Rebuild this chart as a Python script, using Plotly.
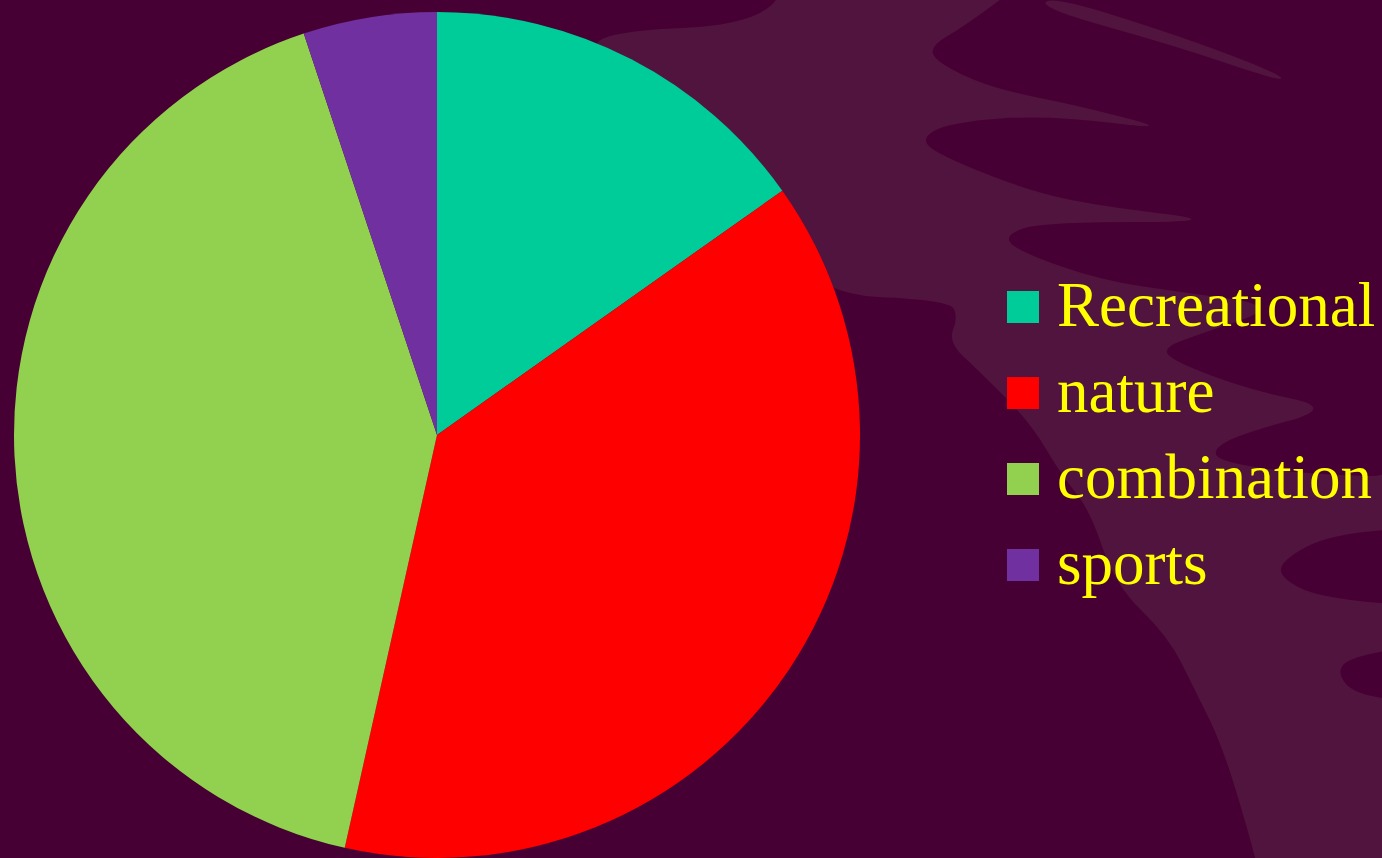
import plotly.graph_objects as go

# ---- data ----
labels = ["Recreational", "nature", "combination", "sports"]
values = [15.2, 38.3, 41.4, 5.1]
colors = ["#00CC99", "#FF0000", "#92D050", "#7030A0"]

W, H = 1382, 858
BG_DARK = "#470033"
BG_LIGHT = "#51143F"
TEXT_COLOR = "#FFFF00"
FONT = "Liberation Serif, Times New Roman, serif"


def px(x):
    return x / W


def py(y):
    return 1 - y / H


def smooth_path(points):
    """closed path through midpoints, using the vertices as quadratic control points"""
    n = len(points)
    mids = [((points[i][0] + points[(i + 1) % n][0]) / 2, (points[i][1] + points[(i + 1) % n][1]) / 2)
            for i in range(n)]
    s = f"M {px(mids[-1][0]):.5f},{py(mids[-1][1]):.5f}"
    for i in range(n):
        c = points[i]
        m = mids[i]
        s += f" Q {px(c[0]):.5f},{py(c[1]):.5f} {px(m[0]):.5f},{py(m[1]):.5f}"
    return s + " Z"


# background decoration (lighter swirl area with darker fingers)
light_region = [(790, -40), (1440, -40), (1440, 900), (1266, 900), (1248, 830), (1222, 745),
                (1195, 690), (1168, 636), (1115, 585), (1090, 510), (1062, 476), (1030, 422),
                (980, 372), (948, 342), (958, 318), (950, 300), (806, 294), (700, 150),
                (600, 60), (594, 32), (770, 24)]
dark_hand = [(1040, -30), (1300, -30), (1300, 0), (1440, 60), (1440, 478), (1300, 474),
             (1222, 462), (1212, 450), (1240, 434), (1336, 408), (1250, 390), (1175, 362),
             (1162, 348), (1200, 334), (1282, 306), (1180, 292), (1100, 280), (1020, 252),
             (1003, 236), (1040, 222), (1230, 222), (1100, 206), (1033, 192), (950, 160),
             (918, 140), (950, 122), (1050, 115), (1176, 131), (1080, 106), (990, 88),
             (936, 62), (930, 46), (965, 26)]
dark_f = [(1440, 526), (1330, 534), (1282, 560), (1280, 578), (1320, 598), (1440, 608)]
dark_g = [(1440, 642), (1352, 656), (1336, 672), (1356, 696), (1440, 704)]
streak = [(1052, -4), (1180, 36), (1280, 74), (1282, 82), (1176, 46), (1040, 8)]

shapes = []
for pts, col in [(light_region, BG_LIGHT), (dark_hand, BG_DARK), (dark_f, BG_DARK),
                 (dark_g, BG_DARK), (streak, BG_LIGHT)]:
    shapes.append(dict(type="path", xref="paper", yref="paper", path=smooth_path(pts),
                       fillcolor=col, line=dict(width=0), layer="below"))

# pie geometry: center (437, 435), radius 423
cx, cy, R = 437, 435, 423

fig = go.Figure(go.Pie(
    labels=labels,
    values=values,
    sort=False,
    direction="clockwise",
    rotation=0,
    marker=dict(colors=colors, line=dict(width=0)),
    textinfo="none",
    hoverinfo="label+percent",
    showlegend=False,
    domain=dict(x=[px(cx - R), px(cx + R)], y=[py(cy + R), py(cy - R)]),
))

# legend drawn manually (big squares + serif labels)
sq = 32
leg_x = 1007
text_x = 1055
row_y0 = 307
row_dy = 86
annotations = []
for i, (lab, col) in enumerate(zip(labels, colors)):
    yc = row_y0 + i * row_dy
    shapes.append(dict(type="rect", xref="paper", yref="paper",
                       x0=px(leg_x), x1=px(leg_x + sq), y0=py(yc + sq / 2), y1=py(yc - sq / 2),
                       fillcolor=col, line=dict(width=0)))
    annotations.append(dict(text=lab, xref="paper", yref="paper", x=px(text_x), y=py(yc - 2),
                            xanchor="left", yanchor="middle", showarrow=False,
                            font=dict(family=FONT, size=63, color=TEXT_COLOR)))

fig.update_layout(
    width=W, height=H,
    margin=dict(l=0, r=0, t=0, b=0),
    paper_bgcolor=BG_DARK,
    plot_bgcolor=BG_DARK,
    shapes=shapes,
    annotations=annotations,
)

fig.write_html("out.html", config={"displayModeBar": False},
               post_script="document.body.style.margin='0';document.body.style.overflow='hidden';")
